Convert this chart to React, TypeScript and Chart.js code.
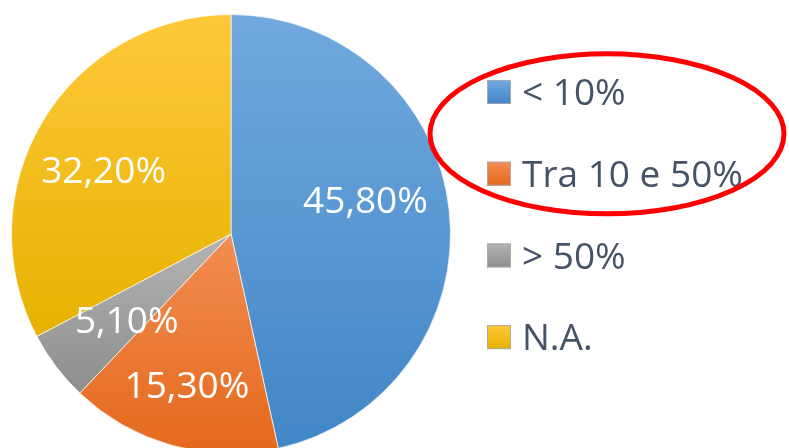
import React, { useEffect, useRef } from "react";
import { Chart, registerables } from "chart.js";

Chart.register(...registerables);

const categories = ["< 10%", "Tra 10 e 50%", "> 50%", "N.A."];
const values = [45.8, 15.3, 5.1, 32.2];
const valueLabels = ["45,80%", "15,30%", "5,10%", "32,20%"];
const highlightedEntries = [0, 1];

const topColors = ["#71a9de", "#f28d52", "#b4b4b4", "#ffc83a"];
const bottomColors = ["#4186c7", "#e4691c", "#8d8d8d", "#e6b200"];

const FONT = "'Open Sans', 'Noto Sans', sans-serif";
const TWO_PI = Math.PI * 2;

function sliceGradient(context: any) {
  const i = context.dataIndex;
  const chart = context.chart;
  const area = chart.chartArea;
  if (!area || i === undefined) return topColors[i ?? 0];
  const cx = (area.left + area.right) / 2;
  const cy = (area.top + area.bottom) / 2;
  const R = (Math.min(area.right - area.left, area.bottom - area.top) - 1) / 2;
  const total = values.reduce((a, b) => a + b, 0);
  let cum = 0;
  for (let k = 0; k < i; k++) cum += values[k];
  const a0 = -Math.PI / 2 + (TWO_PI * cum) / total;
  const a1 = a0 + (TWO_PI * values[i]) / total;
  const ys = [cy, cy + R * Math.sin(a0), cy + R * Math.sin(a1)];
  const inRange = (t: number) => {
    for (let k = -2; k <= 2; k++) {
      const v = t + k * TWO_PI;
      if (v >= a0 && v <= a1) return true;
    }
    return false;
  };
  if (inRange(Math.PI / 2)) ys.push(cy + R);
  if (inRange(-Math.PI / 2)) ys.push(cy - R);
  const ymin = Math.min(...ys);
  const ymax = Math.max(...ys);
  const g = chart.ctx.createLinearGradient(0, ymin, 0, ymax);
  g.addColorStop(0, topColors[i]);
  g.addColorStop(1, bottomColors[i]);
  return g;
}

const labelPlugin = {
  id: "sliceLabels",
  afterDatasetsDraw(chart: any, _args: any, opts: any) {
    const ctx = chart.ctx;
    const meta = chart.getDatasetMeta(0);
    const size = opts.fontSize;
    ctx.save();
    ctx.font = `${size}px ${FONT}`;
    ctx.fillStyle = "#ffffff";
    ctx.textAlign = "center";
    ctx.textBaseline = "alphabetic";
    meta.data.forEach((arc: any, i: number) => {
      const mid = (arc.startAngle + arc.endAngle) / 2;
      const r = arc.outerRadius * opts.radiusFraction;
      const nudge = opts.nudges[i] || [0, 0];
      const x = arc.x + Math.cos(mid) * r + nudge[0];
      const y = arc.y + Math.sin(mid) * r + nudge[1];
      ctx.fillText(valueLabels[i], x, y + size * 0.357);
    });
    ctx.restore();
  },
};

const legendPlugin = {
  id: "sideLegend",
  afterDraw(chart: any, _args: any, opts: any) {
    const ctx = chart.ctx;
    const size = opts.fontSize;
    ctx.save();
    ctx.font = `${size}px ${FONT}`;
    ctx.textAlign = "left";
    ctx.textBaseline = "alphabetic";
    const labels: string[] = chart.data.labels;
    labels.forEach((lab, i) => {
      const cy = opts.top + i * opts.spacing;
      const bx = opts.left;
      const by = cy - opts.box / 2;
      const g = ctx.createLinearGradient(0, by, 0, by + opts.box);
      g.addColorStop(0, topColors[i]);
      g.addColorStop(1, bottomColors[i]);
      ctx.fillStyle = g;
      ctx.fillRect(bx, by, opts.box, opts.box);
      ctx.strokeStyle = "rgba(170,170,170,0.9)";
      ctx.lineWidth = 1;
      ctx.strokeRect(bx + 0.5, by + 0.5, opts.box - 1, opts.box - 1);
      ctx.fillStyle = opts.color;
      ctx.fillText(lab, bx + opts.box + opts.gap, cy + size * 0.357);
    });
    // red highlight ellipse around the circled entries
    const first = highlightedEntries[0];
    const last = highlightedEntries[highlightedEntries.length - 1];
    const eTop = opts.top + first * opts.spacing;
    const eBot = opts.top + last * opts.spacing;
    const ecy = (eTop + eBot) / 2 + opts.ellipse.dy;
    ctx.beginPath();
    ctx.ellipse(opts.ellipse.cx, ecy, opts.ellipse.rx, opts.ellipse.ry, 0, 0, TWO_PI);
    ctx.strokeStyle = "#ff0000";
    ctx.lineWidth = 5;
    ctx.stroke();
    ctx.restore();
  },
};

export default function App() {
  const ref = useRef<HTMLCanvasElement | null>(null);
  useEffect(() => {
    if (!ref.current) return;
    const chart = new Chart(ref.current, {
      type: "pie",
      data: {
        labels: categories,
        datasets: [
          {
            data: values,
            backgroundColor: sliceGradient as any,
            borderColor: "rgba(255,255,255,0.7)",
            borderWidth: 1,
          },
        ],
      },
      options: {
        responsive: false,
        animation: false,
        layout: { padding: { left: 11, top: 14, right: 338, bottom: 14 } },
        plugins: {
          legend: { display: false },
          tooltip: { enabled: false },
          sliceLabels: {
            fontSize: 37,
            radiusFraction: 0.63,
            nudges: [
              [-3, -19],
              [-7, 18],
              [6, 2],
              [-9, 7],
            ],
          },
          sideLegend: {
            fontSize: 37,
            left: 487,
            top: 92,
            spacing: 81.7,
            box: 24,
            gap: 11,
            color: "#465367",
            ellipse: { cx: 607, rx: 177, ry: 80, dy: 1 },
        },
        } as any,
      },
      plugins: [labelPlugin, legendPlugin],
    });
    return () => chart.destroy();
  }, []);
  return (
    <div
      style={{
        position: "fixed",
        left: 0,
        top: 0,
        width: 789,
        height: 448,
        overflow: "hidden",
        background: "#ffffff",
      }}
    >
      <canvas ref={ref} width={789} height={468} style={{ display: "block" }} />
    </div>
  );
}
